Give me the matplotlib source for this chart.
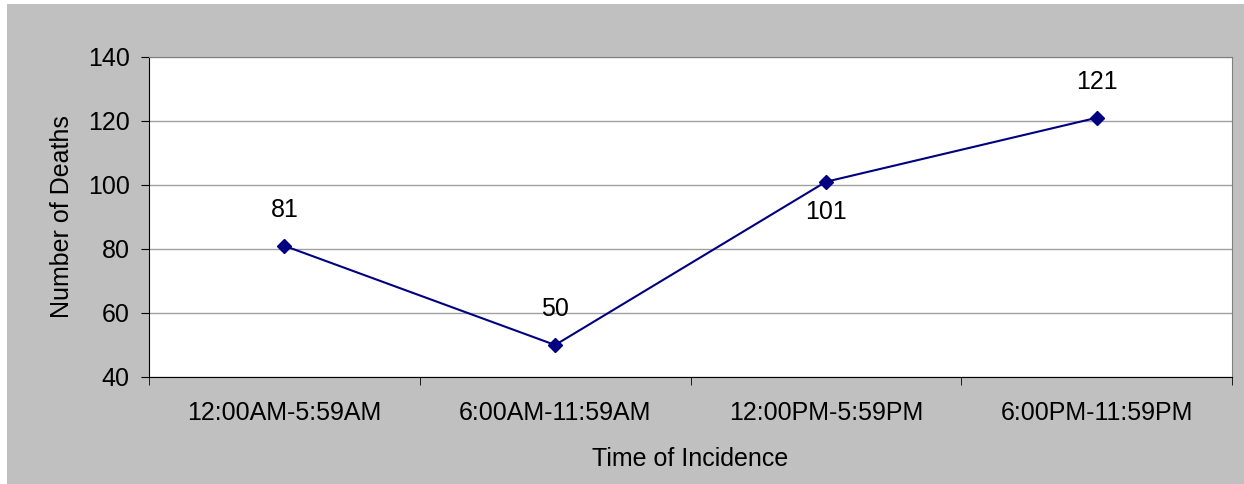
import numpy as np
import matplotlib
matplotlib.use("Agg")
import matplotlib.pyplot as plt

periods = ["12:00AM-5:59AM", "6:00AM-11:59AM", "12:00PM-5:59PM", "6:00PM-11:59PM"]
deaths = [81, 50, 101, 121]
label_above = [True, True, False, True]

plt.rcParams['font.family'] = ['Liberation Sans', 'DejaVu Sans']
FS = 18

fig = plt.figure(figsize=(12.44, 4.84), dpi=100)
fig.patch.set_facecolor("#c0c0c0")
# thin white strips at top and left, like the cropped page
fig.patches.append(plt.Rectangle((0, 1 - 4 / 484), 1, 4 / 484, transform=fig.transFigure,
                                 facecolor="white", edgecolor="none"))
fig.patches.append(plt.Rectangle((0, 0), 7 / 1244, 1, transform=fig.transFigure,
                                 facecolor="white", edgecolor="none"))

ax = fig.add_axes([149 / 1244, 1 - 377 / 484, (1232 - 149) / 1244, (377 - 57) / 484])
ax.set_facecolor("white")

x = np.arange(len(periods))
ax.plot(x, deaths, color="#000080", lw=1.5, marker="D", ms=7, zorder=3, clip_on=False)

for xi, v, up in zip(x, deaths, label_above):
    off = 26 if up else -22
    ax.annotate(str(v), (xi, v), xytext=(0, off), textcoords="offset points",
                ha="center", va="center", fontsize=FS)

ax.set_xlim(-0.5, len(periods) - 0.5)
ax.set_ylim(40, 140)
ax.set_yticks(range(40, 141, 20))
ax.set_xticks(x)
ax.set_xticklabels(periods, fontsize=FS)
ax.set_xticks(np.arange(-0.5, len(periods)), minor=True)
ax.tick_params(axis="x", which="major", length=0, pad=17)
ax.tick_params(axis="x", which="minor", length=6, direction="out", color="black")
ax.tick_params(axis="y", length=6, direction="out", labelsize=FS, pad=8)
ax.yaxis.grid(True, color="#a0a0a0", lw=1)
ax.set_axisbelow(True)

for s in ["top", "right"]:
    ax.spines[s].set_color("#808080")
for s in ["left", "bottom"]:
    ax.spines[s].set_color("black")

ax.set_xlabel("Time of Incidence", fontsize=FS, labelpad=16)
ax.set_ylabel("Number of Deaths", fontsize=FS, labelpad=10)

fig.savefig("out.png", dpi=100, facecolor=fig.get_facecolor())
